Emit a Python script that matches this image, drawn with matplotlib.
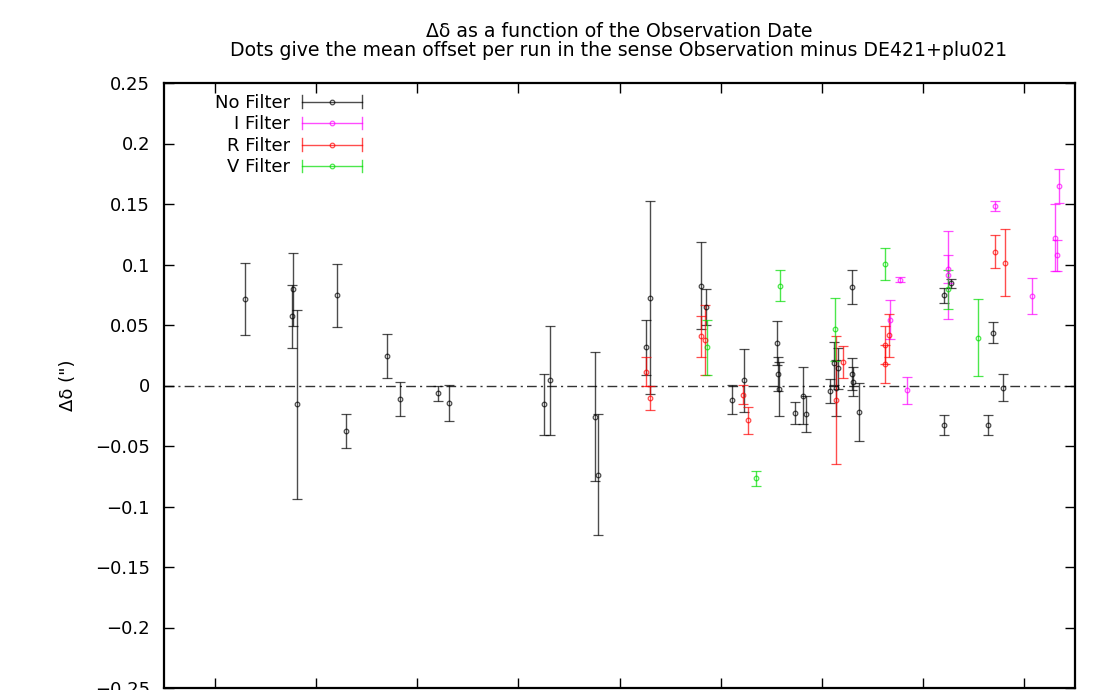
import matplotlib
matplotlib.use("Agg")
import matplotlib.pyplot as plt
from matplotlib.lines import Line2D
from matplotlib.legend_handler import HandlerBase

plt.rcParams['font.family'] = ['DejaVu Sans']

# ---- data (x in arbitrary date units, tick every 1.0) ----
nofilt_x = [0.800, 1.278, 1.268, 1.317, 1.707, 1.801, 2.207, 2.332, 2.708, 2.813,
            3.758, 3.817, 4.256, 4.292, 4.763, 4.805, 5.303, 5.353, 5.613, 5.728,
            6.057, 6.064, 6.080, 6.232, 6.317, 6.341, 6.581, 6.623, 6.635, 6.663,
            6.798, 6.801, 6.804, 6.871, 7.705, 7.705, 7.777, 8.142, 8.192, 8.291]
nofilt_y = [0.0714, 0.0795, 0.0574, -0.0157, 0.0745, -0.0378, 0.0243, -0.0108, -0.0066, -0.0146,
            -0.0157, 0.0044, -0.0257, -0.0739, 0.0315, 0.0726, 0.0825, 0.0646, -0.0119, 0.0044,
            0.0353, 0.0097, -0.0028, -0.0226, -0.0083, -0.0238, -0.0047, 0.0182, -0.0022, 0.0143,
            0.0814, 0.0094, 0.0033, -0.0218, 0.0745, -0.0326, 0.0844, -0.0326, 0.0436, -0.0017]
nofilt_e = [0.030, 0.030, 0.026, 0.078, 0.026, 0.014, 0.018, 0.014, 0.006, 0.015,
            0.025, 0.045, 0.053, 0.050, 0.023, 0.080, 0.036, 0.015, 0.012, 0.026,
            0.018, 0.014, 0.022, 0.009, 0.0235, 0.015, 0.010, 0.018, 0.023, 0.017,
            0.014, 0.013, 0.012, 0.024, 0.006, 0.008, 0.004, 0.008, 0.0087, 0.011]

ifilt_x = [7.176, 7.270, 7.337, 7.750, 7.750, 8.205, 8.574, 8.807, 8.827, 8.841]
ifilt_y = [0.0544, 0.0875, -0.0039, 0.0966, 0.0913, 0.1484, 0.0737, 0.1223, 0.1076, 0.1647]
ifilt_e = [0.016, 0.002, 0.011, 0.0116, 0.036, 0.004, 0.015, 0.0275, 0.013, 0.014]

rfilt_x = [4.763, 4.805, 5.306, 5.346, 5.724, 5.774, 6.640, 6.712, 7.125, 7.125, 7.164, 8.205, 8.313]
rfilt_y = [0.0113, -0.0105, 0.0406, 0.0373, -0.0077, -0.0287, -0.0119, 0.0193, 0.0335, 0.0176, 0.0414, 0.1107, 0.1016]
rfilt_e = [0.012, 0.0098, 0.017, 0.029, 0.008, 0.011, 0.053, 0.013, 0.0155, 0.0155, 0.018, 0.014, 0.028]

vfilt_x = [5.369, 5.847, 6.083, 6.630, 7.125, 7.750, 8.046]
vfilt_y = [0.0315, -0.0767, 0.0825, 0.0464, 0.1004, 0.0795, 0.0395]
vfilt_e = [0.023, 0.006, 0.013, 0.026, 0.013, 0.016, 0.032]

series_labels = ["No Filter", "I Filter", "R Filter", "V Filter"]
series_colors = ["#000000", "#ff00ff", "#ff0000", "#00dd00"]

xticks = [0.5, 1.5, 2.5, 3.5, 4.5, 5.5, 6.5, 7.5, 8.5]
yticks = [0.25, 0.2, 0.15, 0.1, 0.05, 0, -0.05, -0.1, -0.15, -0.2, -0.25]
ytick_labels = ["0.25", "0.2", "0.15", "0.1", "0.05", "0", "\u22120.05", "\u22120.1",
                "\u22120.15", "\u22120.2", "\u22120.25"]

title = ("\u0394\u03b4 as a function of the Observation Date\n"
         "Dots give the mean offset per run in the sense Observation minus DE421+plu021")

# ---- figure ----
W, H = 1096, 690
fig = plt.figure(figsize=(W / 100, H / 100), dpi=100)
ax = fig.add_axes([164 / W, 2 / H, 911 / W, 605 / H])

ax.axhline(0, color="#333333", lw=1.0, ls=(0, (7, 3, 1.5, 3)), zorder=1)

alpha = 0.7
datasets = [(nofilt_x, nofilt_y, nofilt_e), (ifilt_x, ifilt_y, ifilt_e),
            (rfilt_x, rfilt_y, rfilt_e), (vfilt_x, vfilt_y, vfilt_e)]
for (x, y, e), c in zip(datasets, series_colors):
    ax.errorbar(x, y, yerr=e, fmt="o", color=c, ms=3.3, mfc="none", mew=0.9,
                elinewidth=1.0, capsize=3.6, capthick=1.0, alpha=alpha, zorder=3)


class ErrHandler(HandlerBase):
    def __init__(self, color):
        super().__init__()
        self.color = color

    def create_artists(self, legend, orig_handle, xdescent, ydescent, width, height,
                       fontsize, trans):
        yc = height / 2 - ydescent
        x0, x1 = -xdescent, width - xdescent
        cap = 0.35 * fontsize
        arts = [
            Line2D([x0, x1], [yc, yc], color=self.color, lw=1.0, alpha=alpha),
            Line2D([x0, x0], [yc - cap, yc + cap], color=self.color, lw=1.0, alpha=alpha),
            Line2D([x1, x1], [yc - cap, yc + cap], color=self.color, lw=1.0, alpha=alpha),
            Line2D([(x0 + x1) / 2], [yc], color=self.color, marker="o", ms=3.3,
                   mfc="none", mew=0.9, alpha=alpha),
        ]
        for a in arts:
            a.set_transform(trans)
        return arts


handles = [Line2D([], [], color=c) for c in series_colors]
hmap = {h: ErrHandler(c) for h, c in zip(handles, series_colors)}
leg = ax.legend(handles, series_labels, handler_map=hmap, loc="upper right",
                bbox_to_anchor=(362 / W, (H - 94) / H), bbox_transform=fig.transFigure,
                frameon=False, markerfirst=False, fontsize=13, handlelength=3.3,
                handletextpad=0.7, labelspacing=0.19, borderpad=0, borderaxespad=0)

ax.set_xlim(0, 9)
ax.set_ylim(-0.25, 0.25)
ax.set_xticks(xticks)
ax.set_xticklabels([""] * len(xticks))
ax.set_yticks(yticks)
ax.set_yticklabels(ytick_labels)
ax.tick_params(direction="in", length=7, width=1.0, top=True, right=True,
               labelsize=13, pad=10)
for s in ax.spines.values():
    s.set_linewidth(1.6)

ax.set_ylabel("\u0394\u03b4 (\")", fontsize=13, labelpad=13)
fig.text(619 / W, 1 - 41 / H, title, ha="center", va="center", fontsize=13.6,
         linespacing=1.05)

fig.savefig("out.png", dpi=100)
